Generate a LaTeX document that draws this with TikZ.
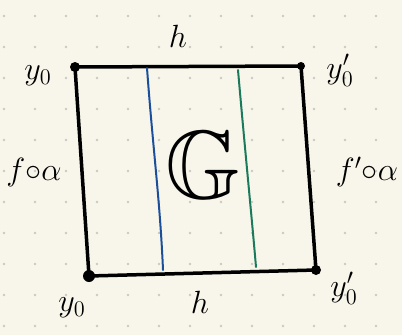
\documentclass[tikz,border=0pt]{standalone}
\usepackage{amsmath,amssymb}
\usepackage{xcolor}
\usepackage{tikz}
\usetikzlibrary{calc}
\definecolor{paper}{HTML}{F8F6EA}
\definecolor{griddot}{HTML}{C9C9C4}
\definecolor{fibreblue}{HTML}{1B4F9C}
\definecolor{fibregreen}{HTML}{1B7A5C}
\tikzset{
  sqedge/.style={line width=3.5pt,line cap=round,line join=round},
  cornerdot/.style={circle,fill=black,inner sep=0pt},
  fibre/.style={line width=2pt,line cap=round},
  sqlabel/.style={font=\huge,scale=1.55,inner sep=1pt}
}
\begin{document}
\begin{tikzpicture}[x=1pt,y=-1pt]
  \fill[paper] (0,0) rectangle (402,335);
  \useasboundingbox (0,0) rectangle (402,335);
  % dotted paper
  \foreach \i in {0,...,12}
    \foreach \j in {0,...,10}
      \fill[griddot] ({4+31*\i},{16+31*\j}) circle (1.3);
  % corners of the square
  \node[cornerdot,minimum size=10pt] (tl) at (75,67) {};
  \node[cornerdot,minimum size=8pt] (tr) at (301,66) {};
  \node[cornerdot,minimum size=12pt] (bl) at (89,276) {};
  \node[cornerdot,minimum size=10pt] (br) at (316,270) {};
  \draw[sqedge] (tl.center) -- (tr.center) -- (br.center) -- (bl.center) -- cycle;
  % vertical fibres
  \coordinate (b1) at (147,68);
  \coordinate (b2) at (163,270);
  \coordinate (g1) at (238,70);
  \coordinate (g2) at (256,267);
  \draw[fibre,fibreblue] (b1) .. controls (153,150) and (160,200) .. (b2);
  \draw[fibre,fibregreen] (g1) .. controls (245,150) and (252,220) .. (g2);
  % labels
  \node[sqlabel] (htop) at (178,36) {$h$};
  \node[sqlabel] (hbot) at (200,302) {$h$};
  \node[sqlabel] (ytl) at (38,76) {$y_0$};
  \node[sqlabel] (ytr) at (340,70) {$y_0'$};
  \node[sqlabel] (ybl) at (72,308) {$y_0$};
  \node[sqlabel] (ybr) at (344,288) {$y_0'$};
  \node[sqlabel] (fl) at (34,172) {$f{\circ}\alpha$};
  \node[sqlabel] (fr) at (367,172) {$f'{\circ}\alpha$};
  \node[font=\Huge,scale=3.9] (grp) at (203,165) {$\mathbb{G}$};
\end{tikzpicture}
\end{document}
